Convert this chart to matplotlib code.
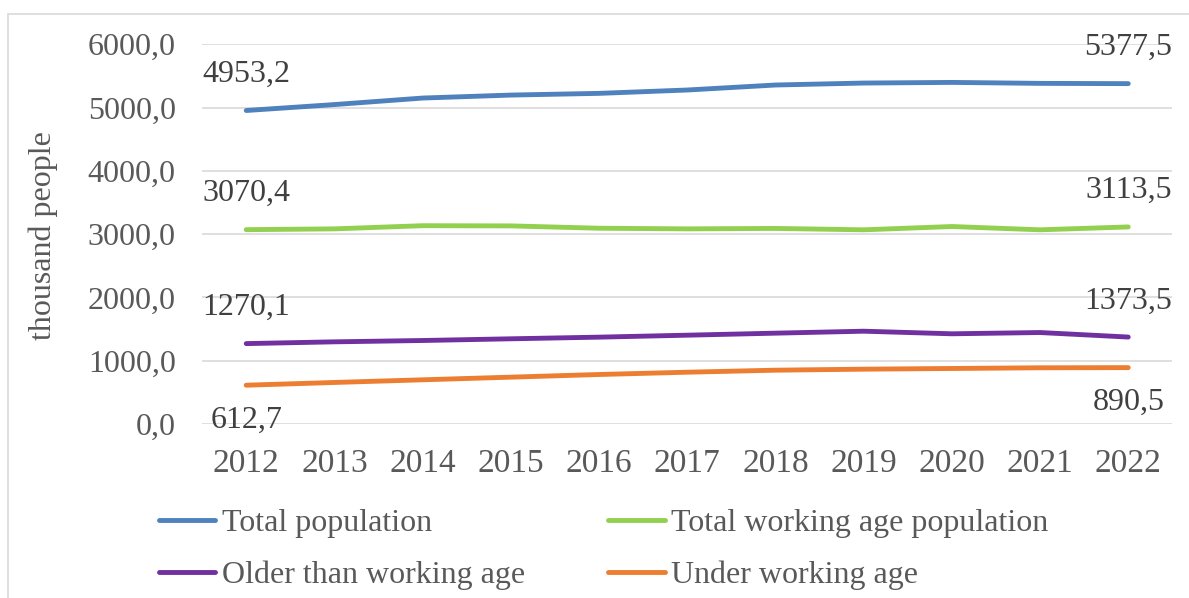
import numpy as np
import matplotlib
matplotlib.use('Agg')
import matplotlib.pyplot as plt
from matplotlib.patches import Rectangle
from matplotlib.ticker import FuncFormatter

years = ['2012', '2013', '2014', '2015', '2016', '2017', '2018', '2019', '2020', '2021', '2022']
total = [4953.2, 5047, 5150, 5197, 5224, 5277, 5356, 5387, 5397, 5382, 5377.5]
working = [3070.4, 3083, 3133, 3130, 3093, 3083, 3090, 3068, 3120, 3068, 3113.5]
older = [1270.1, 1298, 1319, 1346, 1372, 1403, 1435, 1466, 1425, 1445, 1373.5]
under = [612.7, 656, 698, 740, 782, 818, 850, 866, 877, 888, 890.5]

names = ['Total population', 'Total working age population',
         'Older than working age', 'Under working age']
colors = ['#4f81bd', '#92d050', '#7030a0', '#ed7d31']
series = [total, working, older, under]
# подписи концов: над линией или под ней (points)
offsets = [26, 26, 26, -25]

plt.rcParams['font.family'] = ['Liberation Serif', 'DejaVu Serif']
grey = '#595959'

fig = plt.figure(figsize=(11.89, 5.98), dpi=100)
ax = fig.add_axes([0.170, 0.291, 0.816, 0.635])

# рамка вокруг диаграммы
fig.patches.append(Rectangle((8 / 1189, -0.05), 1.2, 1 - 14 / 598 + 0.05,
                             transform=fig.transFigure, fill=False,
                             edgecolor='#d9d9d9', linewidth=1.2))

x = np.arange(len(years))
lines = []
for vals, name, c, off in zip(series, names, colors, offsets):
    ln, = ax.plot(x, vals, color=c, linewidth=3.5, solid_capstyle='round', label=name)
    lines.append(ln)
    for i in (0, len(vals) - 1):
        ax.annotate(f'{vals[i]:.1f}'.replace('.', ','), (x[i], vals[i]),
                    xytext=(0, off), textcoords='offset points',
                    ha='center', va='center', fontsize=23, color='#404040')

ax.set_xlim(-0.5, len(years) - 0.5)
ax.set_ylim(0, 6000)
ax.set_yticks(np.arange(0, 6001, 1000))
ax.yaxis.set_major_formatter(FuncFormatter(lambda v, p: f'{v:.1f}'.replace('.', ',')))
ax.set_xticks(x)
ax.set_xticklabels(years)
ax.tick_params(axis='both', length=0, labelcolor=grey)
ax.tick_params(axis='y', pad=19, labelsize=23)
ax.tick_params(axis='x', pad=18, labelsize=24)
ax.grid(axis='y', color='#d9d9d9', linewidth=1.2)
ax.set_axisbelow(True)
for s in ax.spines.values():
    s.set_visible(False)
ax.set_ylabel('thousand people', fontsize=23, color=grey)
ax.yaxis.set_label_coords(-0.149, 0.497)

# легенда по строкам: порядок для заполнения по столбцам
order = [0, 2, 1, 3]
fig.legend([lines[i] for i in order], [names[i] for i in order],
           loc='upper left', bbox_to_anchor=(0.1226, 0.170), ncol=2,
           frameon=False, fontsize=23, labelcolor=grey, handlelength=1.78,
           handletextpad=0.2, columnspacing=2.6, labelspacing=0.7,
           borderaxespad=0)

fig.savefig('out.png', dpi=100)
